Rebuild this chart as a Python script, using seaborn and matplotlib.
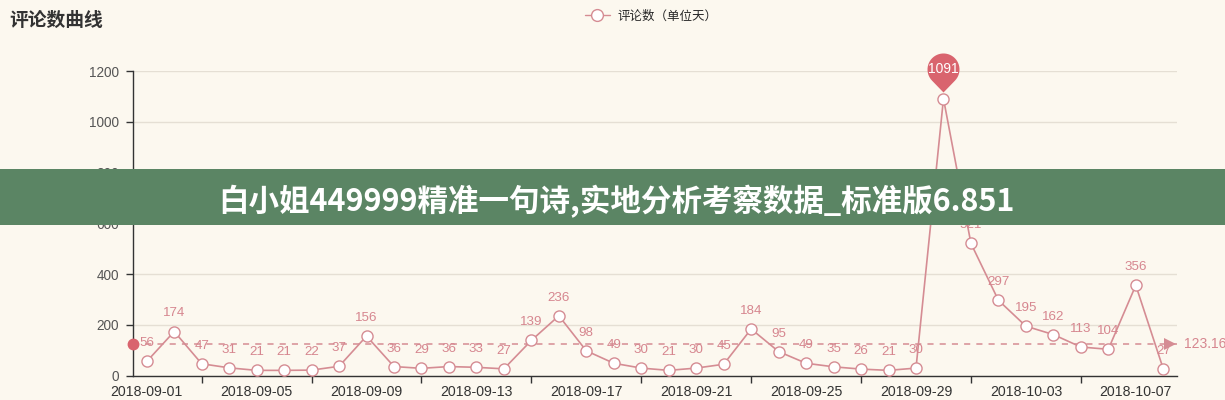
import numpy as np
import pandas as pd
import matplotlib
matplotlib.use("Agg")
import matplotlib.pyplot as plt
from matplotlib.path import Path
from matplotlib.patches import Rectangle
import seaborn as sns

# data
dates = pd.date_range("2018-09-01", "2018-10-08").strftime("%Y-%m-%d").tolist()
comments = [56, 174, 47, 31, 21, 21, 22, 37, 156, 36, 29, 36, 33, 27, 139, 236,
            98, 49, 30, 21, 30, 45, 184, 95, 49, 35, 26, 21, 30, 1091, 521,
            297, 195, 162, 113, 104, 356, 27]
series_name = "评论数（单位天）"
chart_title = "评论数曲线"
banner_text = "白小姐449999精准一句诗,实地分析考察数据_标准版6.851"

df = pd.DataFrame({"idx": np.arange(len(dates)), "date": dates, "value": comments})
avg = np.mean(comments)

bg = "#fcf8ef"
line_c = "#d58c93"
label_c = "#d6868f"
pin_c = "#d9646e"

sns.set_theme(style="white")
plt.rcParams["font.family"] = ["Liberation Sans", "Noto Sans CJK SC", "DejaVu Sans"]

fig = plt.figure(figsize=(12.25, 4), dpi=100, facecolor=bg)
ax = fig.add_axes([133 / 1225, 24.3 / 400, 1044 / 1225, 304.7 / 400])
ax.set_facecolor(bg)

sns.lineplot(data=df, x="idx", y="value", ax=ax, color=line_c, linewidth=1.2,
             marker="o", markersize=8, markerfacecolor="white",
             markeredgecolor=line_c, markeredgewidth=1.0, label=series_name,
             zorder=4, legend=False)

ax.set_xlim(-0.5, len(dates) - 0.5)
ax.set_ylim(0, 1200)
ax.set_yticks(np.arange(0, 1201, 200))
ax.grid(axis="y", color="#e5dfd4", linewidth=1)
ax.grid(axis="x", visible=False)
for s in ["top", "right"]:
    ax.spines[s].set_visible(False)
for s in ["left", "bottom"]:
    ax.spines[s].set_color("#333333")
    ax.spines[s].set_linewidth(1)

ax.set_xticks(df["idx"][::4])
ax.set_xticklabels(df["date"][::4])
ax.set_xticks(np.arange(2, len(dates), 4), minor=True)
ax.tick_params(axis="x", which="major", length=0, pad=7, labelsize=10.2, labelcolor="#333333")
ax.tick_params(axis="x", which="minor", length=5, width=1, color="#333333", direction="out", bottom=True)
ax.tick_params(axis="y", length=5, width=1, color="#333333", left=True, pad=5,
               labelsize=9.8, labelcolor="#555555")
ax.set_xlabel("")
ax.set_ylabel("")

# value labels
imax = int(np.argmax(comments))
for i, v in enumerate(comments):
    if i == imax:
        continue
    ax.annotate(str(v), (i, v), xytext=(0, 13), textcoords="offset points",
                ha="center", va="center", color=label_c, fontsize=9.6, zorder=5)

# average line
ax.plot([-0.5, len(dates) - 0.5], [avg, avg], color=line_c, linestyle=(0, (4, 4)),
        linewidth=1.1, zorder=3, clip_on=False)
ax.plot([-0.5], [avg], marker="o", markersize=7.5, color=pin_c, clip_on=False, zorder=6)
ax.plot([len(dates) - 0.75], [avg], marker=">", markersize=9, color=line_c,
        markeredgewidth=0, clip_on=False, zorder=6)
ax.annotate(f"{avg:.2f}", (len(dates) - 0.5, avg), xytext=(5, 0), textcoords="offset points",
            ha="left", va="center", color=label_c, fontsize=10, annotation_clip=False)

# pin marker for the max
r, cy, tip = 16.0, 30.0, 7.0
ang = np.deg2rad(np.linspace(-45, 225, 40))
verts = [(r * np.cos(a), cy + r * np.sin(a)) for a in ang] + [(0, tip), (r * np.cos(ang[0]), cy + r * np.sin(ang[0]))]
codes = [Path.MOVETO] + [Path.LINETO] * (len(verts) - 2) + [Path.CLOSEPOLY]
pin = Path(verts, codes)
pin_size = 2 * (cy + r) * 0.72
ax.plot([imax], [comments[imax]], marker=pin, markersize=pin_size, color=pin_c,
        markeredgewidth=0, linestyle="none", zorder=7, clip_on=False)
ax.annotate(str(comments[imax]), (imax, comments[imax]), xytext=(0, cy * 0.72),
            textcoords="offset points", ha="center", va="center", color="white",
            fontsize=10, zorder=8, annotation_clip=False)

# title and legend
fig.text(9 / 1225, 1 - 20 / 400, chart_title, ha="left", va="center", fontsize=13.5,
         fontweight="bold", color="#333333", family=["Noto Sans CJK SC", "DejaVu Sans"])
handle = plt.Line2D([], [], color=line_c, linewidth=1, marker="o", markersize=8.5,
                    markerfacecolor="white", markeredgecolor=line_c)
fig.legend([handle], [series_name], loc="center", bbox_to_anchor=(651 / 1225, 1 - 16 / 400),
           frameon=False, handlelength=2.0, handletextpad=0.6,
           prop={"family": ["Noto Sans CJK SC", "DejaVu Sans"], "size": 9})

# overlay banner across the chart
fig.patches.append(Rectangle((0, 1 - 225 / 400), 1, 56 / 400, transform=fig.transFigure,
                             facecolor="#5b8564", edgecolor="none", zorder=20))
fig.text(616 / 1225, 1 - 202 / 400, banner_text, ha="center", va="center", color="white",
         fontsize=22, fontweight="bold", zorder=21, family=["Noto Sans CJK SC", "DejaVu Sans"])

fig.savefig("out.png", dpi=100, facecolor=bg)
